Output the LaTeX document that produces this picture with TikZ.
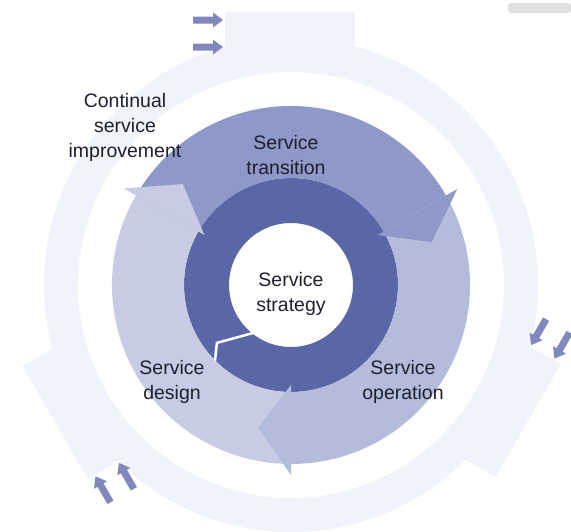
\documentclass[tikz,border=0pt]{standalone}
\usepackage{fontspec}
\setmainfont{Liberation Sans}
\usepackage{tikz}
\definecolor{csi}{RGB}{241, 243, 250}
\definecolor{flow}{RGB}{128, 136, 190}
\definecolor{strat}{RGB}{90, 102, 165}
\definecolor{trans}{RGB}{142, 152, 201}
\definecolor{oper}{RGB}{180, 188, 220}
\definecolor{desig}{RGB}{199, 204, 228}
\definecolor{ink}{RGB}{30, 32, 46}
\definecolor{bar}{RGB}{224, 224, 224}
\usetikzlibrary{positioning}
\newcommand{\smallarrow}[2]{\fill[flow, shift={(#1pt,-#2pt)}] (0pt,3.5pt) -- (20pt,3.5pt) -- (20pt,7.5pt) -- (30pt,0pt) -- (20pt,-7.5pt) -- (20pt,-3.5pt) -- (0pt,-3.5pt) -- cycle;}

\begin{document}
\begin{tikzpicture}[label/.style={font=\fontsize{19.5}{25}\selectfont, text=ink, align=center, inner sep=0pt}]
\useasboundingbox (0pt,0pt) rectangle (571pt,-531pt);
\fill[white] (0pt,0pt) rectangle (571pt,-531pt);
\fill[bar, rounded corners=3pt] (508pt,-3pt) rectangle (571pt,-13pt);
% outer ring, three blocks with their flow arrows
\fill[csi, even odd rule] (291pt,-285pt) circle (247pt) (291pt,-285pt) circle (213pt);
\fill[csi] (225pt,-12pt) rectangle (355pt,-65pt);
\smallarrow{193}{20}
\smallarrow{193}{47}
\begin{scope}[rotate around={-120:(291pt,-285pt)}]
\fill[csi] (225pt,-12pt) rectangle (355pt,-65pt);
\smallarrow{193}{20}
\smallarrow{193}{47}
\end{scope}
\begin{scope}[rotate around={120:(291pt,-285pt)}]
\fill[csi] (225pt,-12pt) rectangle (355pt,-65pt);
\smallarrow{193}{20}
\smallarrow{193}{47}
\end{scope}
% strategy ring
\fill[strat, even odd rule] (291pt,-285pt) circle (107pt) (291pt,-285pt) circle (62pt);
\begin{scope}[shift={(291pt,-285pt)}]
\draw[white, line width=2.5pt] (234:58pt) -- (218:94pt) -- (226:110pt);
% arrow bodies
\fill[trans] (150:107pt) arc[start angle=150, end angle=30, radius=107pt] -- (30:179pt) arc[start angle=30, end angle=150, radius=179pt] -- cycle;
\fill[oper] (30:107pt) arc[start angle=30, end angle=-90, radius=107pt] -- (-90:179pt) arc[start angle=-90, end angle=30, radius=179pt] -- cycle;
\fill[desig] (270:107pt) arc[start angle=270, end angle=150, radius=107pt] -- (150:179pt) arc[start angle=150, end angle=270, radius=179pt] -- cycle;
% arrow heads
\fill[trans] (30:100pt) -- (17:147pt) -- (30:192pt) -- cycle;
\fill[oper] (-90:100pt) -- (-103:146pt) -- (-90:190pt) -- cycle;
\fill[desig] (150:100pt) -- (137:148pt) -- (150:193pt) -- cycle;
\end{scope}
% labels
\node (strategy) [label] at (291pt, -294pt) {Service\\strategy};
\node (transition) [label] at (286pt, -155pt) {Service\\transition};
\node (design) [label] at (172pt, -382pt) {Service\\design};
\node (operation) [label] at (403pt, -382pt) {Service\\operation};
\node (improvement) [label] at (125pt, -127pt) {Continual\\service\\improvement};
\end{tikzpicture}
\end{document}
